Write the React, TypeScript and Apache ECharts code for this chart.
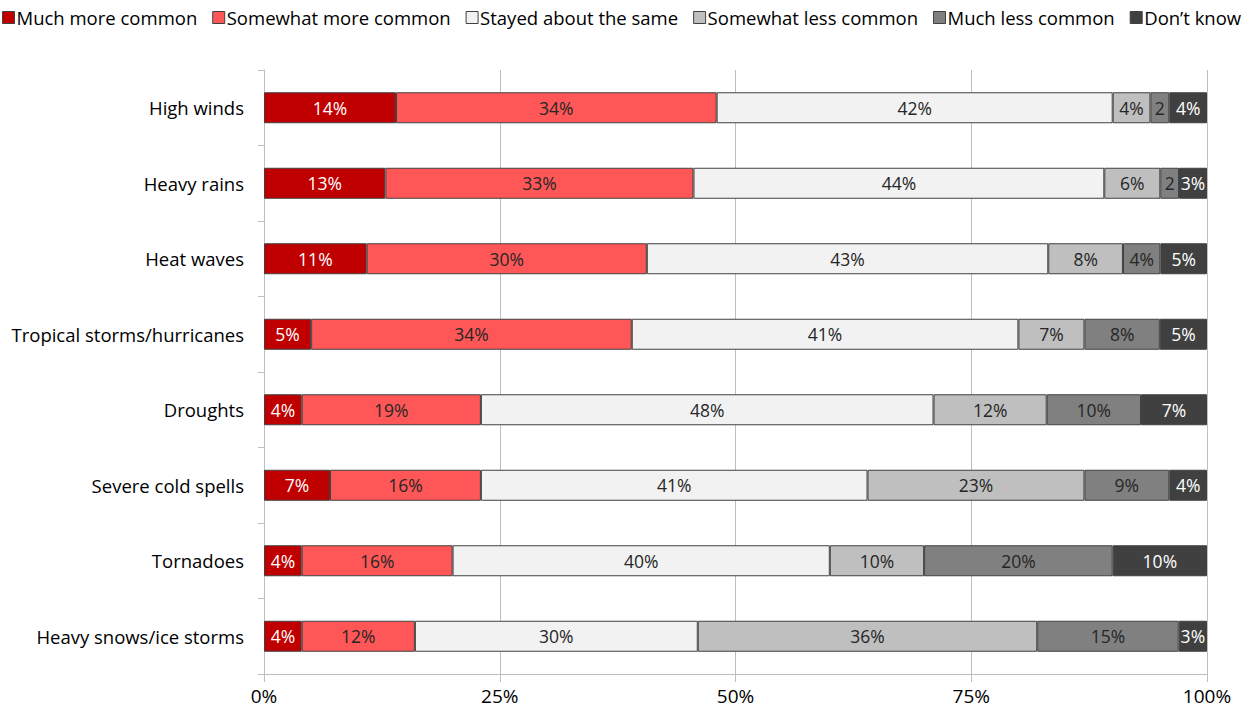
import React, { useEffect, useRef } from "react";
import * as echarts from "echarts";

const categories = [
  "High winds",
  "Heavy rains",
  "Heat waves",
  "Tropical storms/hurricanes",
  "Droughts",
  "Severe cold spells",
  "Tornadoes",
  "Heavy snows/ice storms",
];

const seriesNames = [
  "Much more common",
  "Somewhat more common",
  "Stayed about the same",
  "Somewhat less common",
  "Much less common",
  "Don\u2019t know",
];

const muchMore = [14, 13, 11, 5, 4, 7, 4, 4];
const somewhatMore = [34, 33, 30, 34, 19, 16, 16, 12];
const stayedSame = [42, 44, 43, 41, 48, 41, 40, 30];
const somewhatLess = [4, 6, 8, 7, 12, 23, 10, 36];
const muchLess = [2, 2, 4, 8, 10, 9, 20, 15];
const dontKnow = [4, 3, 5, 5, 7, 4, 10, 3];

const xTicks = [0, 25, 50, 75, 100];

const colors = ["#C00000", "#FF5757", "#F2F2F2", "#BFBFBF", "#808080", "#404040"];
const labelColors = ["#FFFFFF", "#262626", "#262626", "#262626", "#262626", "#FFFFFF"];

const FONT = "'Open Sans', Lato, sans-serif";

export default function App() {
  const ref = useRef<HTMLDivElement>(null);
  useEffect(() => {
    if (!ref.current) return;
    const chart = echarts.init(ref.current, undefined, { renderer: "svg" });
    const raw = [muchMore, somewhatMore, stayedSame, somewhatLess, muchLess, dontKnow];
    const totals = categories.map((_, i) => raw.reduce((s, arr) => s + arr[i], 0));
    const series = raw.map((arr, k) => ({
      name: seriesNames[k],
      type: "bar",
      stack: "total",
      barWidth: 31,
      data: arr.map((v, i) => ({ value: (v / totals[i]) * 100, raw: v })),
      itemStyle: { color: colors[k], borderColor: "#404040", borderWidth: 1 },
      label: {
        show: true,
        position: "inside",
        color: labelColors[k],
        fontSize: 17.5,
        fontFamily: FONT,
        formatter: (p: any) => {
          const v = p.data.raw;
          return v < 3 ? String(v) : v + "%";
        },
      },
    }));
    chart.setOption({
      animation: false,
      textStyle: { fontFamily: FONT },
      legend: {
        top: 8,
        left: 2,
        width: 1253,
        padding: 0,
        itemWidth: 12,
        itemHeight: 12,
        itemGap: 15,
        icon: "rect",
        textStyle: { fontSize: 18.5, color: "#000", fontFamily: FONT, padding: [0, 0, 0, -3] },
        data: seriesNames.map((n, k) => ({
          name: n,
          itemStyle: { color: colors[k], borderColor: "#404040", borderWidth: 1 },
        })),
      },
      grid: { left: 264, right: 48, top: 70, bottom: 39, containLabel: false },
      xAxis: {
        type: "value",
        min: xTicks[0],
        max: xTicks[xTicks.length - 1],
        interval: 25,
        axisLine: { show: true, lineStyle: { color: "#BFBFBF" } },
        axisTick: { show: true, length: 8, lineStyle: { color: "#BFBFBF" } },
        splitLine: { show: true, lineStyle: { color: "#BFBFBF" } },
        axisLabel: {
          formatter: "{value}%",
          fontSize: 19,
          color: "#000",
          fontFamily: FONT,
          margin: 12,
        },
      },
      yAxis: {
        type: "category",
        data: categories,
        inverse: true,
        axisLine: { show: true, lineStyle: { color: "#BFBFBF" } },
        axisTick: { show: true, length: 6, lineStyle: { color: "#BFBFBF" } },
        axisLabel: { fontSize: 18.5, color: "#000", fontFamily: FONT, margin: 20 },
      },
      series,
    });
    return () => chart.dispose();
  }, []);
  return (
    <div
      ref={ref}
      style={{ position: "fixed", left: 0, top: 0, width: 1255, height: 713, background: "#fff" }}
    />
  );
}
